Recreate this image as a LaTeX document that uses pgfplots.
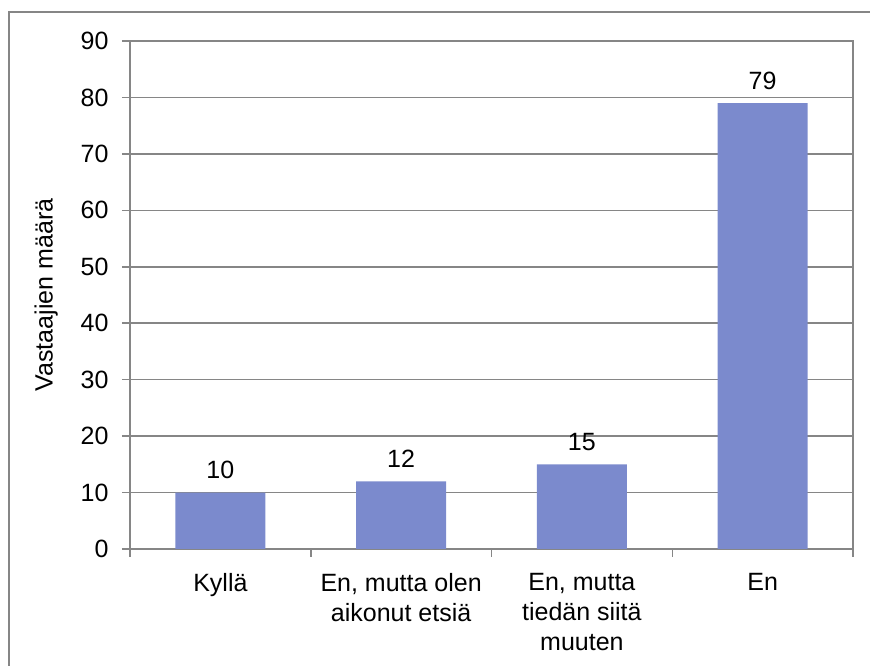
\documentclass[border=0pt]{standalone}
\usepackage{pgfplots}
\pgfplotsset{compat=1.18}
\usepackage{fontspec}
\setmainfont{Liberation Sans}
\definecolor{barfill}{RGB}{123,138,205}
\definecolor{axgray}{RGB}{134,134,134}
\begin{document}
\fontsize{25}{30}\selectfont
\begin{tikzpicture}
  \useasboundingbox (0pt,0pt) rectangle (870pt,666pt);
  \begin{scope}
  \clip (0pt,0pt) rectangle (870pt,666pt);
  % chart frame
  \draw[axgray, line width=1.8pt] (9pt,-20pt) rectangle (890pt,654pt);
  \end{scope}
  \begin{axis}[
    at={(130pt,117pt)}, anchor=south west,
    scale only axis, width=723pt, height=508pt,
    xmin=-0.5, xmax=3.5, ymin=0, ymax=90,
    ytick={0,10,...,90},
    xtick={0,1,2,3},
    xticklabels={Kyllä,{En, mutta olen\\aikonut etsiä},{En, mutta\\tiedän siitä\\muuten},En},
    x tick label style={align=center, font=\fontsize{25}{30}\selectfont, yshift=-8pt},
    y tick label style={font=\fontsize{25}{30}\selectfont, xshift=-5pt},
    minor xtick={-0.5,0.5,1.5,2.5,3.5},
    major x tick style={draw=none},
    tick align=outside,
    major tick length=8pt, minor tick length=8pt,
    xtick pos=bottom, ytick pos=left,
    every tick/.style={axgray, line width=1.5pt},
    axis line style={axgray, line width=1.5pt},
    ymajorgrids,
    major grid style={axgray, line width=1.5pt},
    ylabel={Vastaajien määrä},
    ylabel style={font=\fontsize{25}{30}\selectfont, at={(ticklabel cs:0.5)}, yshift=6pt},
    /pgf/number format/assume math mode=true,
    ybar, bar width=90pt,
    nodes near coords,
    every node near coord/.append style={font=\fontsize{25}{30}\selectfont, black, yshift=5pt},
  ]
    \addplot[fill=barfill, draw=none] coordinates {(0,10) (1,12) (2,15) (3,79)};
  \end{axis}
\end{tikzpicture}
\end{document}
